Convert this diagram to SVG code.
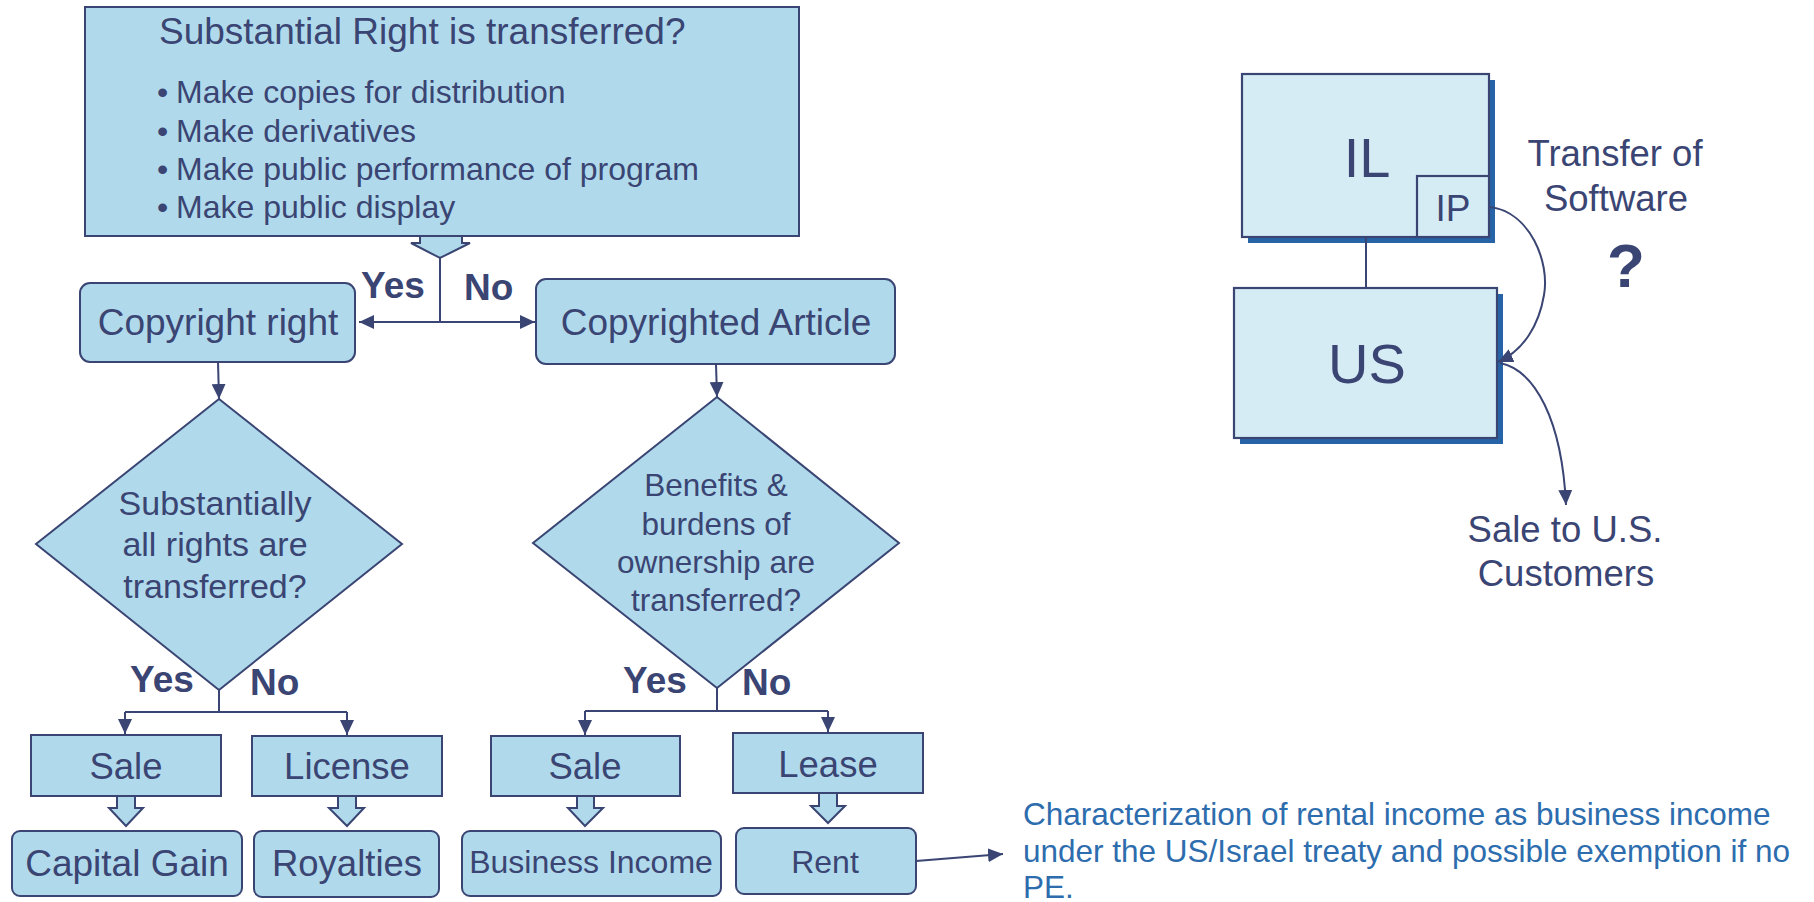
<svg xmlns="http://www.w3.org/2000/svg" width="1814" height="902" viewBox="0 0 1814 902">
  <defs>
    <style>
      text { font-family: "Liberation Sans", Arial, Helvetica, sans-serif; fill: #3A4573; }
      .box { fill: #B0DAEB; stroke: #3A4573; stroke-width: 2; }
      .ent { fill: #D6ECF5; stroke: #3A4573; stroke-width: 2.2; }
      .shadow { fill: #2764A7; }
      .wire { fill: none; stroke: #3A4573; stroke-width: 2; }
      .big { font-size: 37px; }
      .mid { font-size: 36.5px; }
      .small { font-size: 32px; }
      .yn { font-size: 37px; font-weight: bold; }
      .c { text-anchor: middle; }
      .note { fill: #2D6DAE; font-size: 31.5px; }
    </style>
    <marker id="head" markerUnits="userSpaceOnUse" markerWidth="16" markerHeight="14" refX="15" refY="7" orient="auto">
      <path d="M0,0 L15,7 L0,14 Z" fill="#3A4573"/>
    </marker>
  </defs>

  <!-- Question box with its block arrow -->
  <g id="q-substantial-right">
    <rect class="box" x="85" y="7" width="714" height="229"/>
    <path class="box" d="M420,236 L420,243 L411,243 L440,258 L470,243 L462,243 L462,236 Z"/>
    <text class="big" x="159" y="44">Substantial Right is transferred?</text>
    <g class="small">
      <text x="157" y="103">•</text><text x="176" y="103">Make copies for distribution</text>
      <text x="157" y="142">•</text><text x="176" y="142">Make derivatives</text>
      <text x="157" y="180">•</text><text x="176" y="180">Make public performance of program</text>
      <text x="157" y="218">•</text><text x="176" y="218">Make public display</text>
    </g>
  </g>

  <g id="copyright-right">
    <rect class="box" x="80" y="283" width="275" height="79" rx="10"/>
    <text class="big c" x="218" y="335">Copyright right</text>
  </g>

  <g id="copyrighted-article">
    <rect class="box" x="536" y="279" width="359" height="85" rx="10"/>
    <text class="big c" x="716" y="335">Copyrighted Article</text>
  </g>

  <g id="q-all-rights">
    <path class="box" d="M219,399 L402,544 L219,690 L36,544 Z"/>
    <text class="c" x="215" y="515" font-size="34">Substantially</text>
    <text class="c" x="215" y="556" font-size="34">all rights are</text>
    <text class="c" x="215" y="598" font-size="34">transferred?</text>
  </g>

  <g id="q-benefits">
    <path class="box" d="M717,397 L899,543 L717,688 L533,543 Z"/>
    <text class="c" x="716" y="496" font-size="31.5">Benefits &amp;</text>
    <text class="c" x="716" y="535" font-size="31.5">burdens of</text>
    <text class="c" x="716" y="573" font-size="31.5">ownership are</text>
    <text class="c" x="716" y="611" font-size="31.5">transferred?</text>
  </g>

  <!-- Outcome boxes -->
  <g id="sale-left">
    <rect class="box" x="31" y="735" width="190" height="61"/>
    <path class="box" d="M117,796 L117,808 L109,808 L126,826 L143,808 L135,808 L135,796 Z"/>
    <text class="mid c" x="126" y="779">Sale</text>
  </g>
  <g id="license">
    <rect class="box" x="252" y="736" width="190" height="60"/>
    <path class="box" d="M338,796 L338,808 L329,808 L347,826 L364,808 L356,808 L356,796 Z"/>
    <text class="mid c" x="347" y="779">License</text>
  </g>
  <g id="sale-right">
    <rect class="box" x="491" y="736" width="189" height="60"/>
    <path class="box" d="M577,796 L577,808 L568,808 L585,826 L603,808 L594,808 L594,796 Z"/>
    <text class="mid c" x="585" y="779">Sale</text>
  </g>
  <g id="lease">
    <rect class="box" x="733" y="733" width="190" height="60"/>
    <path class="box" d="M819,793 L819,806 L811,806 L828,823 L845,806 L837,806 L837,793 Z"/>
    <text class="mid c" x="828" y="777">Lease</text>
  </g>

  <g id="capital-gain">
    <rect class="box" x="12" y="831" width="230" height="65" rx="8"/>
    <text class="big c" x="127" y="876">Capital Gain</text>
  </g>
  <g id="royalties">
    <rect class="box" x="254" y="831" width="185" height="66" rx="8"/>
    <text class="mid c" x="347" y="876">Royalties</text>
  </g>
  <g id="business-income">
    <rect class="box" x="462" y="831" width="259" height="65" rx="8"/>
    <text class="small c" x="591" y="873">Business Income</text>
  </g>
  <g id="rent">
    <rect class="box" x="736" y="828" width="180" height="66" rx="8"/>
    <text class="small c" x="825" y="873">Rent</text>
  </g>

  <g id="rent-note">
    <text class="note" x="1023" y="825">Characterization of rental income as business income</text>
    <text class="note" x="1023" y="862">under the US/Israel treaty and possible exemption if no</text>
    <text class="note" x="1023" y="898">PE.</text>
  </g>

  <!-- Entity structure -->
  <g id="il">
    <rect class="shadow" x="1248" y="80" width="247" height="163"/>
    <rect class="ent" x="1242" y="74" width="247" height="163"/>
    <text class="c" x="1367" y="177" font-size="56">IL</text>
  </g>
  <g id="ip">
    <rect class="ent" x="1417" y="176" width="72" height="61"/>
    <text class="c" x="1453" y="221" font-size="37">IP</text>
  </g>
  <g id="us">
    <rect class="shadow" x="1240" y="294" width="263" height="150"/>
    <rect class="ent" x="1234" y="288" width="263" height="150"/>
    <text class="c" x="1367" y="383" font-size="56">US</text>
  </g>

  <g id="transfer-label">
    <text class="mid c" x="1615" y="166">Transfer of</text>
    <text class="mid c" x="1616" y="211">Software</text>
    <text class="c" x="1626" y="287" font-size="62" font-weight="bold">?</text>
  </g>
  <g id="sale-label">
    <text class="mid c" x="1565" y="542">Sale to U.S.</text>
    <text class="mid c" x="1566" y="586">Customers</text>
  </g>

  <!-- Connectors with their Yes / No labels -->
  <g id="connectors">
    <path class="wire" d="M440,258 L440,322"/>
    <path class="wire" d="M440,322 L359,322" marker-end="url(#head)"/>
    <path class="wire" d="M440,322 L535,322" marker-end="url(#head)"/>
    <path class="wire" d="M218,362 L219,399" marker-end="url(#head)"/>
    <path class="wire" d="M716,364 L717,397" marker-end="url(#head)"/>

    <path class="wire" d="M219,690 L219,712 M125,712 L347,712"/>
    <path class="wire" d="M125,712 L125,734" marker-end="url(#head)"/>
    <path class="wire" d="M347,712 L347,735" marker-end="url(#head)"/>

    <path class="wire" d="M717,688 L717,711 M585,711 L828,711"/>
    <path class="wire" d="M585,711 L585,735" marker-end="url(#head)"/>
    <path class="wire" d="M828,711 L828,732" marker-end="url(#head)"/>

    <path class="wire" d="M916,861 L1003,854" marker-end="url(#head)"/>

    <path class="wire" d="M1366,237 L1366,288"/>
    <path class="wire" d="M1490,207 C1530,212 1550,262 1544,295 C1539,325 1524,350 1498,362" marker-end="url(#head)"/>
    <path class="wire" d="M1500,363 C1535,370 1562,420 1566,505" marker-end="url(#head)"/>

    <text class="yn" x="361" y="298">Yes</text>
    <text class="yn" x="464" y="300">No</text>
    <text class="yn" x="130" y="692">Yes</text>
    <text class="yn" x="250" y="695">No</text>
    <text class="yn" x="623" y="693">Yes</text>
    <text class="yn" x="742" y="695">No</text>
  </g>
</svg>
